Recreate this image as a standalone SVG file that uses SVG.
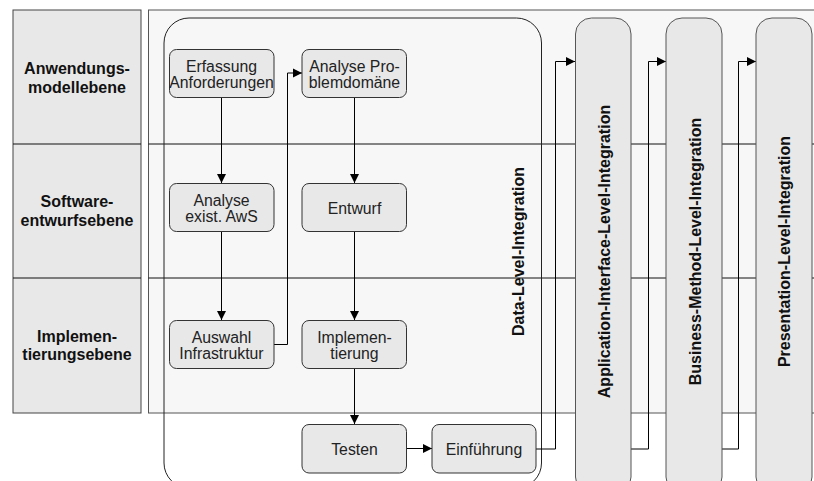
<svg xmlns="http://www.w3.org/2000/svg" width="814" height="481" viewBox="0 0 814 481">
<defs>
<marker id="ah" markerWidth="11" markerHeight="11" refX="10" refY="5.5" orient="auto" markerUnits="userSpaceOnUse">
<path d="M1,1 L10,5.5 L1,10 Z" fill="#000"/>
</marker>
<style>
.lane{fill:#e8e8e8;stroke:#444;stroke-width:1}
.area{fill:#f7f7f7;stroke:#555;stroke-width:1}
.sep{stroke:#111;stroke-width:1;fill:none}
.node{fill:#e8e8e8;stroke:#333;stroke-width:1}
.pillar{fill:#e8e8e8;stroke:#555;stroke-width:1}
.lbl{font-family:"Liberation Sans",Arial,sans-serif;font-size:16px;font-weight:bold;fill:#111;text-anchor:middle}
.t{font-family:"Liberation Sans",Arial,sans-serif;font-size:15.8px;fill:#222;text-anchor:middle}
.c{stroke:#000;stroke-width:1;fill:none}
</style>
</defs>
<g id="lanes">
<rect class="lane" x="13" y="10" width="128" height="403"/>
<rect class="area" x="148.5" y="10" width="680" height="403"/>
<line class="sep" x1="13" y1="144" x2="141" y2="144"/>
<line class="sep" x1="13" y1="278" x2="141" y2="278"/>
<line class="sep" x1="148.5" y1="144" x2="820" y2="144"/>
<line class="sep" x1="148.5" y1="278" x2="820" y2="278"/>
<text class="lbl" x="77" y="74">Anwendungs-</text>
<text class="lbl" x="77" y="93">modellebene</text>
<text class="lbl" x="77" y="207">Software-</text>
<text class="lbl" x="77" y="226">entwurfsebene</text>
<text class="lbl" x="77" y="342">Implemen-</text>
<text class="lbl" x="77" y="360">tierungsebene</text>
</g>
<g id="data-level">
<rect x="164" y="18" width="377.5" height="470" rx="25" ry="25" fill="none" stroke="#222" stroke-width="1"/>
<text class="lbl" transform="translate(524,251.5) rotate(-90)">Data-Level-Integration</text>
</g>
<g id="connectors">
<line class="c" x1="221.5" y1="98" x2="221.5" y2="183" marker-end="url(#ah)"/>
<line class="c" x1="221.5" y1="232" x2="221.5" y2="320" marker-end="url(#ah)"/>
<polyline class="c" points="274,344.5 287.5,344.5 287.5,73 302,73" marker-end="url(#ah)"/>
<line class="c" x1="354.5" y1="98" x2="354.5" y2="183" marker-end="url(#ah)"/>
<line class="c" x1="354.5" y1="232" x2="354.5" y2="320" marker-end="url(#ah)"/>
<line class="c" x1="354.5" y1="369" x2="354.5" y2="424" marker-end="url(#ah)"/>
<line class="c" x1="407" y1="448.5" x2="432" y2="448.5" marker-end="url(#ah)"/>
<polyline class="c" points="536,449 555.5,449 555.5,61.5 575,61.5" marker-end="url(#ah)"/>
<polyline class="c" points="631,449 648.5,449 648.5,61.5 666,61.5" marker-end="url(#ah)"/>
<polyline class="c" points="722,449 738.5,449 738.5,61.5 756,61.5" marker-end="url(#ah)"/>
</g>
<g id="app-interface">
<rect class="pillar" x="575.5" y="18" width="55.5" height="475" rx="16" ry="16"/>
<text class="lbl" transform="translate(609.5,251.5) rotate(-90)">Application-Interface-Level-Integration</text>
</g>
<g id="business-method">
<rect class="pillar" x="666" y="18" width="56" height="475" rx="16" ry="16"/>
<text class="lbl" transform="translate(701,251.5) rotate(-90)">Business-Method-Level-Integration</text>
</g>
<g id="presentation">
<rect class="pillar" x="756" y="18" width="56" height="475" rx="16" ry="16"/>
<text class="lbl" transform="translate(790,251.5) rotate(-90)">Presentation-Level-Integration</text>
</g>
<g id="erfassung">
<rect class="node" x="169.5" y="49.5" width="104.5" height="48" rx="7"/>
<text class="t" x="221.5" y="71.5">Erfassung</text>
<text class="t" x="221.5" y="87.5">Anforderungen</text>
</g>
<g id="analyse-problem">
<rect class="node" x="302" y="49.5" width="104.5" height="48" rx="7"/>
<text class="t" x="354.5" y="71.5">Analyse Pro-</text>
<text class="t" x="354.5" y="87.5">blemdomäne</text>
</g>
<g id="analyse-aws">
<rect class="node" x="169.5" y="183.5" width="104.5" height="48" rx="7"/>
<text class="t" x="221.5" y="205.5">Analyse</text>
<text class="t" x="221.5" y="221.5">exist. AwS</text>
</g>
<g id="entwurf">
<rect class="node" x="302" y="183.5" width="104.5" height="48" rx="7"/>
<text class="t" x="354.5" y="213.5">Entwurf</text>
</g>
<g id="auswahl">
<rect class="node" x="169.5" y="320.5" width="104.5" height="48" rx="7"/>
<text class="t" x="221.5" y="342.5">Auswahl</text>
<text class="t" x="221.5" y="358.5">Infrastruktur</text>
</g>
<g id="implementierung">
<rect class="node" x="302" y="320.5" width="104.5" height="48" rx="7"/>
<text class="t" x="354.5" y="342.5">Implemen-</text>
<text class="t" x="354.5" y="358.5">tierung</text>
</g>
<g id="testen">
<rect class="node" x="302" y="424.5" width="104.5" height="48.5" rx="7"/>
<text class="t" x="354.5" y="454.5">Testen</text>
</g>
<g id="einfuehrung">
<rect class="node" x="432" y="424.5" width="104" height="48.5" rx="7"/>
<text class="t" x="484" y="454.5">Einführung</text>
</g>
</svg>
